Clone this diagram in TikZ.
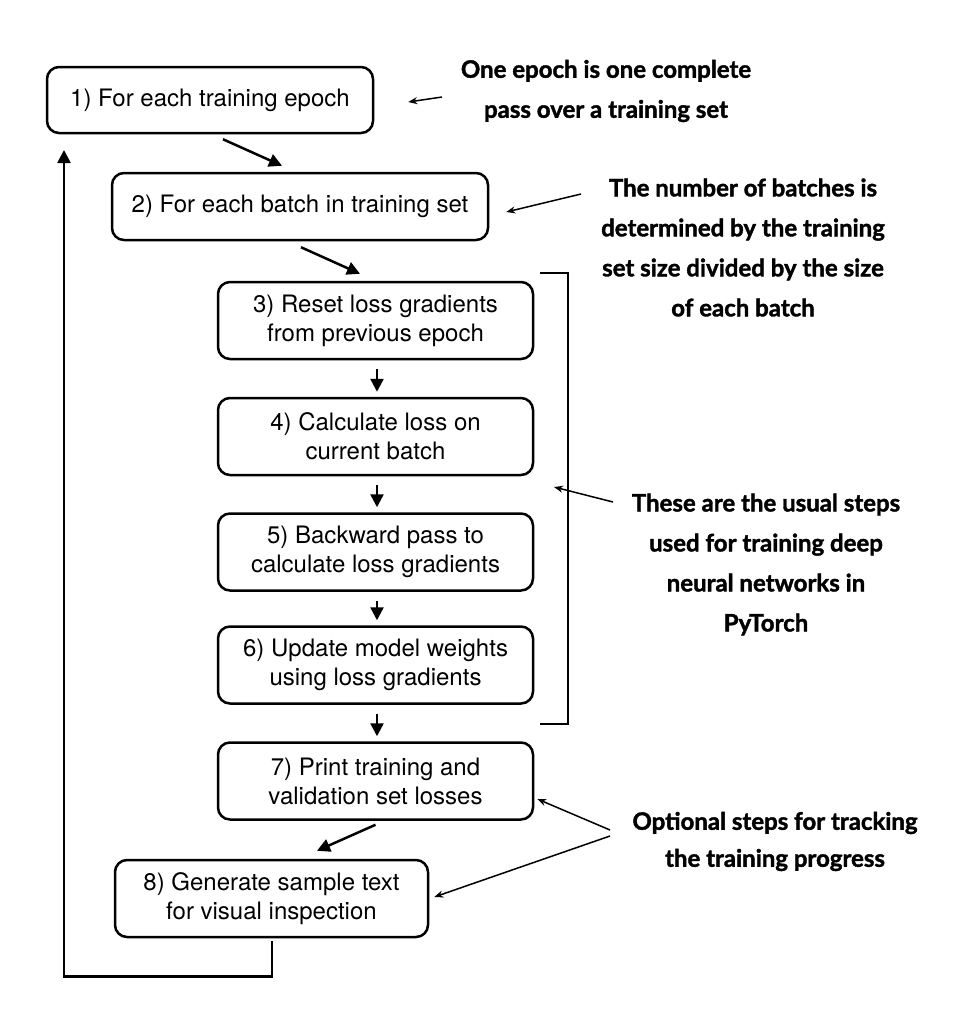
\documentclass[tikz,border=0pt]{standalone}
\usepackage{fontspec}
\setmainfont{TeX Gyre Heros}
\newfontfamily\annfont{Lato}[BoldFeatures={FakeBold=1.6}]
\usetikzlibrary{arrows.meta,calc}
\begin{document}
\begin{tikzpicture}[x=1pt,y=-1pt,
  box/.style={draw, line width=2.5pt, rounded corners=12pt, align=center,
    font=\fontsize{24}{29}\selectfont, inner sep=0pt},
  flow/.style={-{Triangle[length=13pt,width=13pt]}, line width=2.5pt},
  note/.style={align=center, font=\annfont\bfseries\fontsize{24}{40}\selectfont},
  pointer/.style={-{Stealth[length=9pt,width=7pt]}, line width=1.5pt}]
\useasboundingbox (0,0) rectangle (970,1013);

% boxes
\node[box, minimum width=326pt, minimum height=66pt] (b1) at (210,100) {1) For each training epoch};
\node[box, minimum width=376pt, minimum height=67pt] (b2) at (300,206.5) {2) For each batch in training set};
\node[box, minimum width=315pt, minimum height=77pt] (b3) at (375.5,320.5) {3) Reset loss gradients\\from previous epoch};
\node[box, minimum width=315pt, minimum height=77pt] (b4) at (375.5,436.5) {4) Calculate loss on\\current batch};
\node[box, minimum width=315pt, minimum height=77pt] (b5) at (375.5,552) {5) Backward pass to\\calculate loss gradients};
\node[box, minimum width=315pt, minimum height=77pt] (b6) at (375.5,665) {6) Update model weights\\using loss gradients};
\node[box, minimum width=315pt, minimum height=77pt] (b7) at (375.5,781) {7) Print training and\\validation set losses};
\node[box, minimum width=313pt, minimum height=77pt] (b8) at (271.5,898.5) {8) Generate sample text\\for visual inspection};

% flow arrows
\draw[flow] ([shift={(13,5)}]b1.south) -- ([shift={(-18,-6)}]b2.north);
\draw[flow] ([shift={(1,6)}]b2.south) -- ([shift={(-15.5,-7)}]b3.north);
\foreach \a/\b in {b3/b4,b4/b5,b5/b6,b6/b7}
  \draw[flow] ([shift={(1.5,9)}]\a.south) -- ([shift={(1.5,-5)}]\b.north);
\draw[flow] ([shift={(0,4)}]b7.south) -- ([shift={(-58.5,-8)}]b7.south |- b8.north);

% loop back
\coordinate (back) at (64,150);
\draw[flow] ([shift={(0.5,3)}]b8.south) -- ++(0,35) -| (back);

% bracket
\coordinate (brt) at (540,273);
\coordinate (brb) at (540,724);
\draw[line width=2pt] (brt) -- ++(28,0) |- (brb);

% annotations
\node[note] (n1) at (606,91) {One epoch is one complete\\pass over a training set};
\node[note] (n2) at (743,247.5) {The number of batches is\\determined by the training\\set size divided by the size\\of each batch};
\node[note] (n3) at (766,564.5) {These are the usual steps\\used for training deep\\neural networks in\\PyTorch};
\node[note, font=\annfont\bfseries\fontsize{24}{37}\selectfont] (n4) at (775,841.5) {Optional steps for tracking\\the training progress};

% pointers
\coordinate (s1) at (442,97);
\coordinate (s2) at (581,194);
\coordinate (s3) at (613,502);
\coordinate (s4) at (610,830);
\coordinate (s5) at (610,836);
\draw[pointer] (s1) -- ([shift={(34,2)}]b1.east);
\draw[pointer] (s2) -- ([shift={(17,5.5)}]b2.east);
\draw[pointer] (s3) -- ([shift={(14,214)}]brt);
\draw[pointer] (s4) -- ([shift={(3,18)}]b7.east);
\draw[pointer] (s5) -- ([shift={(5,-1.5)}]b8.east);
\end{tikzpicture}
\end{document}
